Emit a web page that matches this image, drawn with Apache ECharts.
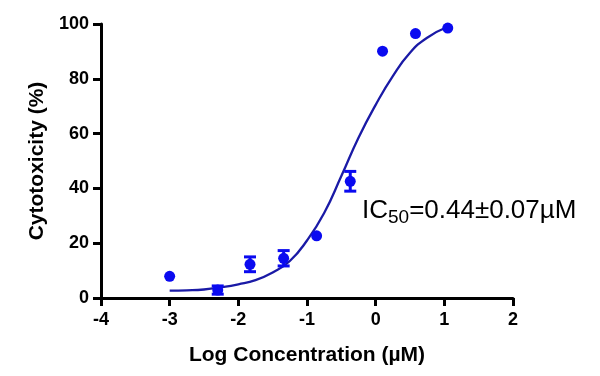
<!DOCTYPE html>
<html>
<head>
<meta charset="utf-8">
<script src="https://cdn.jsdelivr.net/npm/echarts@6/dist/echarts.min.js"></script>
<style>
  html, body { margin: 0; padding: 0; background: #fff; }
  #main { width: 600px; height: 376px; }
</style>
</head>
<body>
<div id="main"></div>
<script>
// measured points (mean, error)
var logConc = [-3.0, -2.30, -1.83, -1.34, -0.86, -0.37, 0.10, 0.58, 1.05];
var cytotox = [7.9, 2.9, 12.3, 14.5, 22.7, 42.6, 90.1, 96.5, 98.5];
var errBar  = [0, 1.5, 2.7, 2.8, 0, 3.6, 0, 0, 0];

// fitted curve
var fitX = [-3.0, -2.75, -2.5, -2.25, -2.0, -1.75, -1.5, -1.25, -1.0, -0.75, -0.5, -0.25, 0.0, 0.25, 0.5, 0.75, 1.05];
var fitY = [2.7, 2.8, 3.1, 3.9, 5.0, 6.5, 9.3, 13.5, 21.0, 31.0, 44.5, 58.5, 70.5, 81.0, 89.5, 95.0, 99.0];

var xTicks = [-4, -3, -2, -1, 0, 1, 2];
var yTicks = [0, 20, 40, 60, 80, 100];

var dotColor = '#0a0af0';
var lineColor = '#1a1aa6';
var font = "'Liberation Sans', Arial, sans-serif";

var myChart = echarts.init(document.getElementById('main'));

var points = [], bars = [], curve = [];
for (var i = 0; i < logConc.length; i++) {
    points.push([logConc[i], cytotox[i]]);
    bars.push([logConc[i], cytotox[i] - errBar[i], cytotox[i] + errBar[i]]);
}
for (var j = 0; j < fitX.length; j++) {
    curve.push([fitX[j], fitY[j]]);
}

var option = {
    animation: false,
    grid: { left: 101, right: 87, top: 24, bottom: 78 },
    xAxis: {
        type: 'value',
        min: xTicks[0], max: xTicks[xTicks.length - 1], interval: 1,
        name: 'Log Concentration (\u00b5M)',
        nameLocation: 'middle', nameGap: 47,
        nameTextStyle: { color: '#000', fontWeight: 'bold', fontSize: 21, fontFamily: font },
        axisLine: { onZero: false, lineStyle: { color: '#000', width: 3 } },
        axisTick: { show: true, length: 8, lineStyle: { color: '#000', width: 3 } },
        splitLine: { show: false },
        axisLabel: { color: '#000', fontWeight: 'bold', fontSize: 18, fontFamily: font, margin: 13 }
    },
    yAxis: {
        type: 'value',
        min: yTicks[0], max: yTicks[yTicks.length - 1], interval: 20,
        name: 'Cytotoxicity (%)',
        nameLocation: 'middle', nameGap: 50,
        nameTextStyle: { color: '#000', fontWeight: 'bold', fontSize: 21, fontFamily: font },
        axisLine: { show: true, onZero: false, lineStyle: { color: '#000', width: 3 } },
        axisTick: { show: true, length: 8, lineStyle: { color: '#000', width: 3 } },
        splitLine: { show: false },
        axisLabel: { color: '#000', fontWeight: 'bold', fontSize: 18, fontFamily: font, margin: 12 }
    },
    series: [
        {
            type: 'line',
            data: curve,
            smooth: true,
            symbol: 'none',
            lineStyle: { color: lineColor, width: 2.3 },
            z: 2
        },
        {
            type: 'custom',
            data: bars,
            renderItem: function (params, api) {
                var x = api.value(0), lo = api.value(1), hi = api.value(2);
                if (hi - lo <= 0) return;
                var p1 = api.coord([x, lo]), p2 = api.coord([x, hi]);
                var w = 6;
                var st = { stroke: dotColor, lineWidth: 3 };
                return {
                    type: 'group',
                    children: [
                        { type: 'line', shape: { x1: p1[0], y1: p1[1], x2: p2[0], y2: p2[1] }, style: st },
                        { type: 'line', shape: { x1: p1[0] - w, y1: p1[1], x2: p1[0] + w, y2: p1[1] }, style: st },
                        { type: 'line', shape: { x1: p2[0] - w, y1: p2[1], x2: p2[0] + w, y2: p2[1] }, style: st }
                    ]
                };
            },
            z: 3
        },
        {
            type: 'scatter',
            data: points,
            symbol: 'circle',
            symbolSize: 11,
            itemStyle: { color: dotColor, opacity: 1 },
            z: 4
        }
    ],
    graphic: [{
        type: 'text',
        left: 362,
        top: 198,
        style: {
            text: '{a|IC}{b|50}{a|=0.44\u00b10.07\u00b5M}',
            fill: '#000',
            rich: {
                a: { fontSize: 26, fontFamily: font, color: '#000', lineHeight: 30 },
                b: { fontSize: 19, fontFamily: font, color: '#000', padding: [14, 0, 0, 0] }
            }
        }
    }]
};
myChart.setOption(option);
</script>
</body>
</html>
